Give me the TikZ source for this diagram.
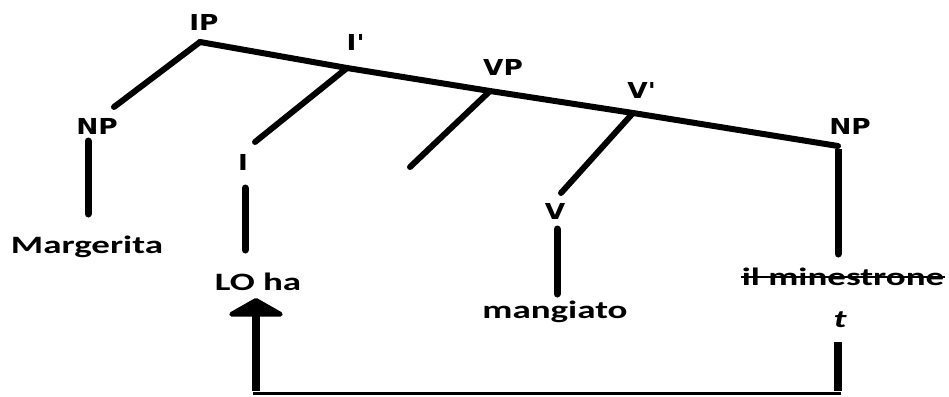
\documentclass[tikz,border=0pt]{standalone}
\usepackage{fontspec}
\newfontfamily\labfont{DejaVu Sans}[FakeStretch=1.2]
\newfontfamily\wordfont{Carlito}[FakeStretch=1.48]
\usetikzlibrary{arrows.meta}
\begin{document}
\begin{tikzpicture}[x=1pt,y=-1pt,
  lab/.style={font=\labfont\bfseries\fontsize{22}{24}\selectfont, inner sep=0pt},
  word/.style={font=\wordfont\bfseries\fontsize{25}{28}\selectfont, inner sep=0pt, anchor=base},
  edge/.style={line width=6pt, line cap=round, line join=round},
  stem/.style={line width=7pt, line cap=round},
  movethin/.style={line width=3pt},
  movethick/.style={line width=8pt}]
\fill[white] (0,0) rectangle (949,396);
% labels
\node[lab] (lIP) at (204,22) {IP};
\node[lab] (lIbar) at (355,42) {I\textquotesingle};
\node[lab] (lVP) at (503,67) {VP};
\node[lab] (lVbar) at (641,90) {V\textquotesingle};
\node[lab] (lNPa) at (97,126) {NP};
\node[lab] (lI) at (243,162) {I};
\node[lab] (lV) at (555,211) {V};
\node[lab] (lNPb) at (850,126) {NP};
% words
\node[word] (wMarg) at (87,253) {Margerita};
\node[word] (wLO) at (258,290) {LO ha};
\node[word] (wMang) at (555,318) {mangiato};
\node[word] (wIl) at (843,285) {il minestrone};
\node[word, font=\wordfont\bfseries\itshape\fontsize{25}{28}\selectfont] (wT) at (840,327) {t};
\draw[line width=2pt] ([xshift=-1pt,yshift=8pt]wIl.base west) -- ([xshift=1pt,yshift=8pt]wIl.base east);
% branch points
\coordinate (ip) at (200,42);
\coordinate (ibar) at (347,68);
\coordinate (vp) at (490,91);
\coordinate (vbar) at (633,113);
\coordinate (npb) at (838,146);
\coordinate (npaTop) at (114,107);
\coordinate (npaS) at (88,141);
\coordinate (npaE) at (88,214);
\coordinate (iTop) at (255,142);
\coordinate (iS) at (245,188);
\coordinate (iE) at (245,250);
\coordinate (vpLeft) at (410,167);
\coordinate (vTop) at (561,193);
\coordinate (vS) at (557,229);
\coordinate (vE) at (557,294);
\coordinate (npbE) at (838,254);
\coordinate (tS) at (838,342);
\coordinate (cR) at (838,393);
\coordinate (cL) at (256,393);
\coordinate (tip) at (256,298);
% tree
\draw[edge] (ip) -- (ibar) -- (vp) -- (vbar) -- (npb);
\draw[edge] (ip) -- (npaTop);
\draw[edge] (ibar) -- (iTop);
\draw[edge] (vp) -- (vpLeft);
\draw[edge] (vbar) -- (vTop);
\draw[stem] (npaS) -- (npaE);
\draw[stem] (iS) -- (iE);
\draw[stem] (vS) -- (vE);
\draw[stem, line cap=butt] ([yshift=-3pt]npb) -- (npbE);
\draw[stem, line cap=round] (npbE) -- ++(0,-0.1);
% movement
\draw[movethick] (tS) -- ([yshift=2pt]cR);
\draw[movethin] ([xshift=3pt]cR) -- ([xshift=-3pt]cL);
\draw[movethick, -{Triangle[width=66pt,length=19pt,round]}] ([yshift=2pt]cL) -- (tip);
\end{tikzpicture}
\end{document}
